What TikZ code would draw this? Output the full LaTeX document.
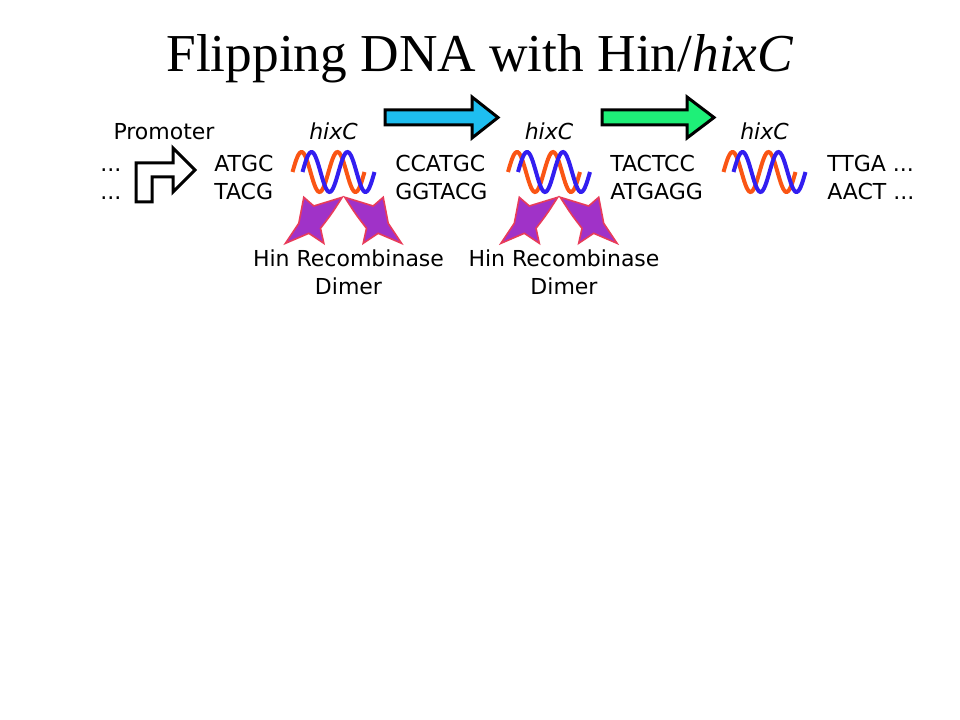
\documentclass[tikz,border=0pt]{standalone}
\usepackage{fontspec}
\setmainfont{Liberation Serif}
\newfontfamily\dejavu{DejaVu Sans}
\definecolor{strandorange}{RGB}{250,85,20}
\definecolor{strandblue}{RGB}{50,30,240}
\definecolor{hinfill}{RGB}{160,50,200}
\definecolor{hinedge}{RGB}{232,60,90}
\definecolor{flipcyan}{RGB}{30,190,240}
\definecolor{flipgreen}{RGB}{30,240,120}
\begin{document}
\begin{tikzpicture}[x=0.75pt,y=-0.75pt,
  seq/.style={font=\dejavu\fontsize{16.5}{21}\selectfont, align=left, anchor=base west, inner sep=0pt},
  lbl/.style={font=\dejavu\fontsize{16.5}{21}\selectfont, align=center, anchor=base, inner sep=0pt},
  hixlbl/.style={font=\dejavu\itshape\fontsize{16.5}{21}\selectfont, anchor=base, inner sep=0pt},
  strandA/.style={draw=strandorange, line width=3pt},
  strandB/.style={draw=strandblue, line width=3pt},
  hin/.style={draw=hinedge, fill=hinfill, line width=1.2pt, line join=miter},
  bigarrow/.style={draw=black, line width=2.25pt, line join=miter}]
\useasboundingbox (0,0) rectangle (960,720);
\node[font=\fontsize{40}{48}\selectfont, anchor=base, inner sep=0pt] (title) at (480,72) {Flipping DNA with Hin/\textit{hixC}};
\node[lbl] (promoter) at (164,140) {Promoter};
\node[seq] (dots) at (100,200) {...\\...};
\node[seq] (atgc) at (214,200) {ATGC\\TACG};
\node[seq] (ccatgc) at (395,200) {CCATGC\\GGTACG};
\node[seq] (tactcc) at (610,200) {TACTCC\\ATGAGG};
\node[seq] (ttga) at (827,200) {TTGA ...\\AACT ...};
\draw[bigarrow, fill=white] (136,202) -- (136,163) -- (173,163) -- (173,148) -- (195,170)
  -- (173,192) -- (173,177) -- (152,177) -- (152,202) -- cycle;
\draw[bigarrow, fill=flipcyan] (385,110) -- (472,110) -- (472,97) -- (498,117.5)
  -- (472,138) -- (472,125) -- (385,125) -- cycle;
\draw[bigarrow, fill=flipgreen] (602,110) -- (687,110) -- (687,97) -- (714,117.5)
  -- (687,138) -- (687,125) -- (602,125) -- cycle;
\foreach \cx/\n in {333.5/1,549/2,764.5/3} {
  \node[hixlbl] (hix\n) at (\cx,140) {hixC};
  \draw[strandA] plot[domain=0:72, samples=60] ({\cx-41+\x},{172-20*sin(10*\x)});
  \draw[strandB] plot[domain=0:72, samples=60] ({\cx-31+\x},{172-20*sin(10*\x)});
}
\foreach \cx/\n in {333.5/1,549/2} {
  \foreach \s in {1,-1} {
    \begin{scope}[shift={({\cx+10},0)}, xscale=\s]
      \draw[hin] (-39.7,197.3) -- (-29.7,206) -- (-1.3,197.3)
        .. controls (-12,214) .. (-23,228.3) -- (-19.7,243.3) -- (-34.7,233.3)
        -- (-58,243.3) -- (-44.7,223.3) -- cycle;
    \end{scope}
  }
  \node[lbl] (hin\n) at (\cx+15,295) {Hin Recombinase\\Dimer};
}
\end{tikzpicture}
\end{document}
